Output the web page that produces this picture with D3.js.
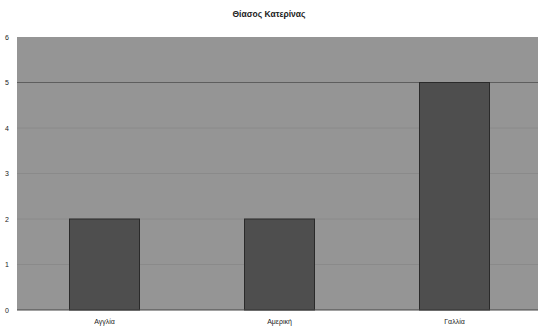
<!DOCTYPE html>
<html>
<head>
<meta charset="utf-8">
<script src="https://cdn.jsdelivr.net/npm/d3@7"></script>
<style>
  html, body { margin: 0; padding: 0; background: #fff; }
  svg { display: block; font-family: "Liberation Sans", Arial, sans-serif; }
</style>
</head>
<body>
<svg id="chart" width="538" height="326"></svg>
<script>
// Chart data
const title = "Θίασος Κατερίνας";
const categories = ["Αγγλία", "Αμερική", "Γαλλία"];
const values = [2, 2, 5];
const yTicks = [0, 1, 2, 3, 4, 5, 6];

const svg = d3.select("#chart");
const margin = { top: 37, right: -4, bottom: 16, left: 17 };
const W = 538, H = 326;
const innerW = W - margin.left - margin.right;
const innerH = H - margin.top - margin.bottom;

const x = d3.scaleBand().domain(categories).range([0, innerW]).paddingInner(0.6).paddingOuter(0.3);
const y = d3.scaleLinear().domain([0, 6]).range([innerH, 0]);

// Title
svg.append("text")
  .attr("x", 269).attr("y", 17)
  .attr("text-anchor", "middle")
  .attr("font-size", 8.5).attr("font-weight", "bold")
  .attr("fill", "#222")
  .text(title);

const g = svg.append("g").attr("transform", `translate(${margin.left},${margin.top})`);

// Plot background
g.append("rect")
  .attr("x", 0).attr("y", 0)
  .attr("width", innerW).attr("height", innerH)
  .attr("fill", "#959595");

// Gridlines
g.append("g").selectAll("line")
  .data(yTicks.filter(t => t > 0 && t < 6))
  .join("line")
  .attr("x1", 0).attr("x2", innerW)
  .attr("y1", d => y(d)).attr("y2", d => y(d))
  .attr("stroke", d => d === 5 ? "#5e5e5e" : "#8a8a8a")
  .attr("stroke-width", 1);

// Bars
g.append("g").selectAll("rect")
  .data(values)
  .join("rect")
  .attr("x", (d, i) => x(categories[i]))
  .attr("y", d => y(d))
  .attr("width", x.bandwidth())
  .attr("height", d => innerH - y(d))
  .attr("fill", "#4e4e4e")
  .attr("stroke", "#2a2a2a")
  .attr("stroke-width", 1);

// Axis baseline
g.append("line")
  .attr("x1", 0).attr("x2", innerW)
  .attr("y1", innerH).attr("y2", innerH)
  .attr("stroke", "#444");

// Y axis labels
const yAxis = g.append("g").call(d3.axisLeft(y).tickValues(yTicks).tickSize(0).tickPadding(8).tickFormat(d3.format("d")));
yAxis.select(".domain").remove();
yAxis.selectAll("text").attr("font-size", 7).attr("fill", "#222").attr("font-family", "Liberation Sans, Arial, sans-serif");

// X axis labels
const xAxis = g.append("g").attr("transform", `translate(0,${innerH})`)
  .call(d3.axisBottom(x).tickSize(0).tickPadding(9));
xAxis.select(".domain").remove();
xAxis.selectAll("text").attr("font-size", 7).attr("fill", "#222").attr("font-family", "Liberation Sans, Arial, sans-serif");
</script>
</body>
</html>
